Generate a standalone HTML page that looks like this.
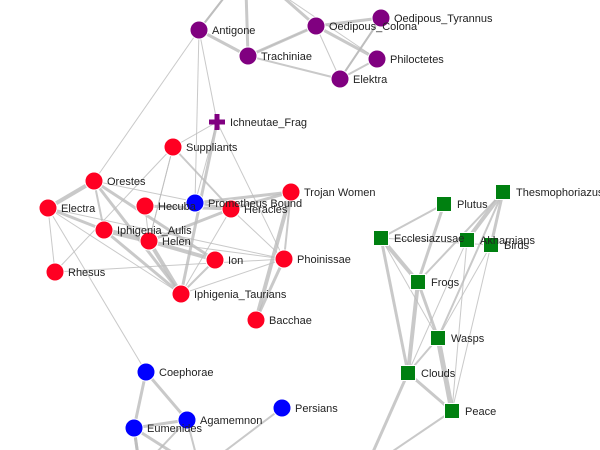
<!DOCTYPE html>
<html><head><meta charset="utf-8"><style>
html,body{margin:0;padding:0;background:#fff;width:600px;height:450px;overflow:hidden}
svg{display:block}
text{font-family:"Liberation Sans",Arial,sans-serif;font-size:11px;fill:#222}
</style></head><body>
<svg id="g" width="600" height="450"></svg>
<script>
const nodeNames=["Antigone","Oedipous_Colona","Oedipous_Tyrannus","Trachiniae","Philoctetes","Elektra","Ichneutae_Frag","Suppliants","Orestes","Electra","Hecuba","Prometheus Bound","Heracles","Trojan Women","Iphigenia_Aulis","Helen","Ion","Phoinissae","Rhesus","Iphigenia_Taurians","Bacchae","Coephorae","Agamemnon","Persians","Eumenides","Plutus","Thesmophoriazus","Ecclesiazusae","Akharnians","Birds","Frogs","Wasps","Clouds","Peace","OffA","OffB","OffC","OffD","OffE","OffF","OffG"];
const nodeX=[199,316,381,248,377,340,217,173,94,48,145,195,231,291,104,149,215,284,55,181,256,146,187,282,134,444,503,381,467,491,418,438,408,452,230,246,275,140,200,365,200];
const nodeY=[30,26,18,56,59,79,122,147,181,208,206,203,209,192,230,241,260,259,272,294,320,372,420,408,428,204,192,238,240,245,282,338,373,411,-10,-10,-10,470,470,470,470];
const nodeGroup=["s","s","s","s","s","s","x","e","e","e","e","a","e","e","e","e","e","e","e","e","e","a","a","a","a","c","c","c","c","c","c","c","c","c","n","n","n","n","n","n","n"];
const edgeSrc=[0,0,0,3,1,1,1,1,3,5,5,2,34,35,36,36,0,0,6,6,6,6,7,7,7,7,8,8,8,8,8,9,9,9,9,9,10,10,11,11,12,12,12,13,13,13,14,14,15,15,15,16,17,17,18,21,21,22,22,24,24,23,25,25,26,26,26,26,27,27,27,27,28,29,29,30,30,31,31,32,32,33,28,22,24];
const edgeDst=[3,34,8,1,4,2,5,3,5,4,2,5,0,3,1,4,11,6,7,19,17,11,12,15,18,15,9,14,19,16,12,14,18,17,19,21,15,12,12,13,17,15,19,17,12,20,19,15,16,19,17,19,20,19,17,22,24,24,38,38,37,40,27,30,28,29,30,31,30,31,32,29,32,33,31,32,31,33,32,33,39,39,33,37,37];
const edgeW=[3,2,1,3,3,3,1,1,2,2,2,2,2,3,3,1,1,1,1,3,1,1,2,1,1,1,4,2,3,3,1,3,1,1,1,1,1,3,2,3,1,3,1,2,3,4,3,5,4,4,1,2,3,1,1,3,3,3,2,3,3,2,2,3,4,3,2,2,4,1,3,1,1,1,1,4,3,5,2,3,3,2,1,2,3];
const ns="http://www.w3.org/2000/svg";
const svg=document.getElementById('g');
const eg=document.createElementNS(ns,'g');svg.appendChild(eg);
for(let i=0;i<edgeSrc.length;i++){
 const l=document.createElementNS(ns,'line');
 
 
 l.setAttribute('x1',nodeX[edgeSrc[i]]);l.setAttribute('y1',nodeY[edgeSrc[i]]);
 l.setAttribute('x2',nodeX[edgeDst[i]]);l.setAttribute('y2',nodeY[edgeDst[i]]);
 l.setAttribute('stroke','#bbb');l.setAttribute('stroke-opacity','0.8');
 l.setAttribute('stroke-width',edgeW[i]);
 eg.appendChild(l);
}
const colors={s:"#800080",e:"#ff0022",a:"#0000ff",c:"#008010",x:"#800080"};
for(let i=0;i<nodeNames.length;i++){
 const gr=nodeGroup[i]; if(gr==='n')continue;
 const x=nodeX[i],y=nodeY[i];let m;
 if(gr==='c'){m=document.createElementNS(ns,'rect');m.setAttribute('x',x-7.5);m.setAttribute('y',y-7.5);m.setAttribute('width',15);m.setAttribute('height',15);m.setAttribute('stroke','#fff');m.setAttribute('stroke-width','1');}
 else if(gr==='x'){m=document.createElementNS(ns,'path');m.setAttribute('d',`M${x-2.5} ${y-8}h5v5.5h5.5v5h-5.5v5.5h-5v-5.5h-5.5v-5h5.5z`);}
 else{m=document.createElementNS(ns,'circle');m.setAttribute('cx',x);m.setAttribute('cy',y);m.setAttribute('r',9);m.setAttribute('stroke','#fff');m.setAttribute('stroke-width','1');}
 m.setAttribute('fill',colors[gr]);
 
 
 svg.appendChild(m);
}
for(let i=0;i<nodeNames.length;i++){
 if(nodeGroup[i]==='n')continue;
 const t=document.createElementNS(ns,'text');
 t.setAttribute('x',nodeX[i]+13);t.setAttribute('y',nodeY[i]+4);
 t.textContent=nodeNames[i];
 
 
 svg.appendChild(t);
}
</script>
</body></html>
